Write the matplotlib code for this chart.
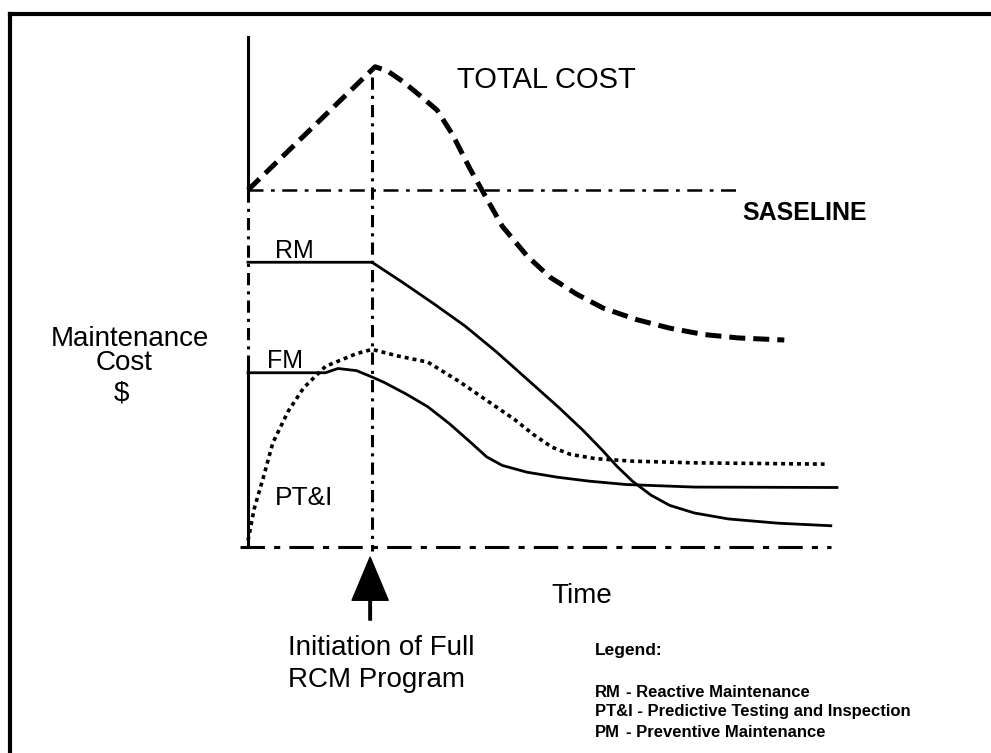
import matplotlib
matplotlib.use("Agg")
import matplotlib.pyplot as plt
from matplotlib.lines import Line2D

plt.rcParams['font.family'] = ['Liberation Sans', 'DejaVu Sans']

# time in arbitrary units, cost in arbitrary units
initiation = 2.0
baseline_cost = 8.4

total_x = [0, 2.05, 2.25, 2.5, 2.75, 3.05, 3.3, 3.58, 3.85, 4.1, 4.5, 4.87, 5.3, 5.73, 6.27, 6.8, 7.35, 7.9, 8.65]
total_y = [8.4, 11.3, 11.2, 10.95, 10.65, 10.28, 9.7, 8.9, 8.2, 7.55, 6.85, 6.35, 5.95, 5.62, 5.35, 5.15, 5.0, 4.92, 4.87]

rm_x = [0, 2.0, 2.5, 3.0, 3.5, 4.0, 4.5, 5.0, 5.4, 5.7, 5.95, 6.2, 6.5, 6.8, 7.2, 7.75, 8.55, 9.4]
rm_y = [6.7, 6.7, 6.22, 5.72, 5.2, 4.6, 3.95, 3.3, 2.75, 2.3, 1.9, 1.55, 1.22, 0.98, 0.8, 0.66, 0.56, 0.5]

pm_x = [0, 1.25, 1.45, 1.75, 2.0, 2.2, 2.55, 2.9, 3.25, 3.6, 3.85, 4.1, 4.5, 5.0, 5.5, 6.1, 7.2, 9.5]
pm_y = [4.1, 4.1, 4.2, 4.15, 4.0, 3.87, 3.6, 3.3, 2.9, 2.45, 2.12, 1.92, 1.76, 1.64, 1.55, 1.47, 1.41, 1.4]

pti_x = [0, 0.1, 0.25, 0.4, 0.65, 0.9, 1.25, 1.75, 2.0, 2.4, 2.9, 3.4, 3.95, 4.3, 4.6, 4.9, 5.2, 5.6, 6.2, 7.2, 9.3]
pti_y = [0.15, 0.9, 1.65, 2.45, 3.2, 3.75, 4.25, 4.55, 4.65, 4.5, 4.35, 3.9, 3.35, 3.0, 2.65, 2.35, 2.18, 2.08, 2.02, 1.98, 1.95]

legend_keys = ["RM", "PT&I", "PM"]
legend_desc = ["Reactive Maintenance", "Predictive Testing and Inspection", "Preventive Maintenance"]

fig = plt.figure(figsize=(9.91, 7.53), dpi=100)
ax = fig.add_axes([0, 0, 1, 1])
# origin of the sketch sits at pixel (248, 547); 62 px per time unit, 42.5 px per cost unit
ax.set_xlim(-248 / 62, (991 - 248) / 62)
ax.set_ylim((547 - 753) / 42.5, 547 / 42.5)
ax.axis('off')

# frame of the scanned page
fig.add_artist(Line2D([10 / 991, 1], [1 - 14 / 753] * 2, color='black', lw=3, transform=fig.transFigure))
fig.add_artist(Line2D([10 / 991] * 2, [0, 1 - 14 / 753], color='black', lw=3, transform=fig.transFigure))

# axes of the sketch
ax.plot([0, 0], [12.0, baseline_cost], color='black', lw=2.2)
ax.plot([0, 0], [baseline_cost, 4.4], color='black', lw=2.2, linestyle=(0, (4, 2, 1, 2)))
ax.plot([0, 0], [4.4, 0], color='black', lw=2.2)
ax.plot([-0.13, 9.4], [0, 0], color='black', lw=2.2, linestyle=(0, (8, 3, 2, 3)))

# baseline and initiation marker
ax.plot([0, 7.95], [baseline_cost, baseline_cost], color='black', lw=1.8, linestyle=(0, (6, 3, 1.5, 3)))
ax.plot([initiation, initiation], [11.06, -0.1], color='black', lw=2.2, linestyle=(0, (4, 2, 1, 2)))

# cost curves
ax.plot(total_x, total_y, color='black', lw=3.6, linestyle=(0, (3.2, 1.6)), dash_capstyle='butt')
ax.plot(rm_x, rm_y, color='black', lw=2.0)
ax.plot(pm_x, pm_y, color='black', lw=2.0)
ax.plot(pti_x, pti_y, color='black', lw=2.6, linestyle=(0, (1.1, 1.1)))

ax.annotate('', xy=(initiation - 0.03, -0.24), xytext=(initiation - 0.03, -1.72),
            arrowprops=dict(facecolor='black', edgecolor='black', width=1.8, headwidth=26, headlength=31, shrink=0))

# labels
ax.text(3.37, 10.8, "TOTAL COST", fontsize=21, va='baseline')
ax.text(7.98, 7.69, "SASELINE", fontsize=18, fontweight='bold', va='baseline')
ax.text(0.44, 6.8, "RM", fontsize=18, va='baseline')
ax.text(0.31, 4.21, "FM", fontsize=18, va='baseline')
ax.text(0.44, 0.99, "PT&I", fontsize=19, va='baseline')

ax.text(-1.9, 4.73, "Maintenance", fontsize=20, ha='center', va='baseline')
ax.text(-2.0, 4.16, "Cost", fontsize=20, ha='center', va='baseline')
ax.text(-2.04, 3.45, "$", fontsize=20, ha='center', va='baseline')

ax.text(4.9, -1.32, "Time", fontsize=20, va='baseline')
ax.text(0.645, -2.54, "Initiation of Full", fontsize=20, va='baseline')
ax.text(0.645, -3.29, "RCM Program", fontsize=20, va='baseline')

ax.text(5.6, -2.54, "Legend:", fontsize=12.5, fontweight='bold', va='baseline')
row_y = [-3.53, -3.97, -4.47]
for key, desc, y in zip(legend_keys, legend_desc, row_y):
    if key == "PT&I":
        ax.text(5.6, y, key + " - " + desc, fontsize=12, fontweight='bold', va='baseline')
    else:
        ax.text(5.6, y, key, fontsize=12, fontweight='bold', va='baseline')
        ax.text(6.1, y, "- " + desc, fontsize=12, fontweight='bold', va='baseline')

fig.savefig("out.png", dpi=100)
